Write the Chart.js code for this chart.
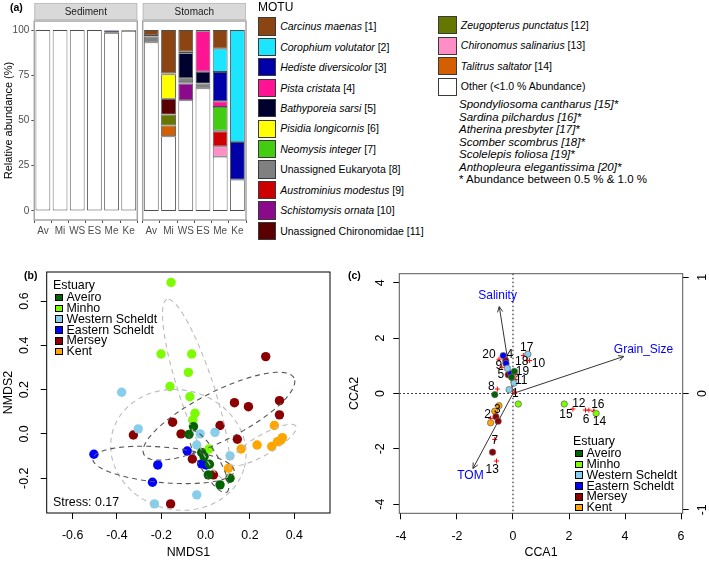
<!DOCTYPE html>
<html>
<head>
<meta charset="utf-8">
<script src="https://cdn.jsdelivr.net/npm/chart.js@4/dist/chart.umd.min.js"></script>
<style>
  body { margin: 0; width: 709px; height: 562px; position: relative; overflow: hidden; background: #fff;
         font-family: "Liberation Sans", Arial, sans-serif; }
  canvas { position: absolute; }
  .t { position: absolute; white-space: nowrap; color: #000; }
  .key { position: absolute; box-sizing: border-box; }
</style>
</head>
<body>
<canvas id="sediment" width="140" height="245" style="left:0;top:0"></canvas>
<canvas id="stomach" width="110" height="245" style="left:140px;top:0"></canvas>
<canvas id="nmds" width="345" height="300" style="left:0;top:262px"></canvas>
<canvas id="cca" width="364" height="300" style="left:345px;top:262px"></canvas>
<div id="labels"></div>
<script>
const FONT = '"Liberation Sans", Arial, sans-serif';
Chart.defaults.font.family = FONT;

// ---------- (a) relative abundance of MOTUs ----------
const sites = ['Av', 'Mi', 'WS', 'ES', 'Me', 'Ke'];
const motuNames = ['Carcinus maenas [1]', 'Corophium volutator [2]', 'Hediste diversicolor [3]',
  'Pista cristata [4]', 'Bathyporeia sarsi [5]', 'Pisidia longicornis [6]', 'Neomysis integer [7]',
  'Unassigned Eukaryota [8]', 'Austrominius modestus [9]', 'Schistomysis ornata [10]',
  'Unassigned Chironomidae [11]', 'Zeugopterus punctatus [12]', 'Chironomus salinarius [13]',
  'Talitrus saltator [14]', 'Other (<1.0 % Abundance)'];
const motuColors = ['#8B4513', '#1CE6FF', '#0000A8', '#FF1493', '#00002E', '#FFFF00', '#44CC11',
  '#808080', '#CC0000', '#8B0A8B', '#5A0000', '#667700', '#FF8DC6', '#D45F00', '#FFFFFF'];
// % abundance per site, in motuNames order
const sedimentAv = [0, 0, 0, 0, 0, 0, 0, 0, 0, 0, 0, 0, 0, 0, 100];
const sedimentMi = [0, 0, 0, 0, 0, 0, 0, 0, 0, 0, 0, 0, 0, 0, 100];
const sedimentWS = [0, 0, 0, 0, 0, 0, 0, 0, 0, 0, 0, 0, 0, 0, 100];
const sedimentES = [0, 0, 0, 0, 0, 0, 0, 0, 0, 0, 0, 0, 0, 0, 100];
const sedimentMe = [0.3, 0, 1.2, 0, 0, 0, 0, 0, 0, 0, 0, 0, 0, 0, 98.5];
const sedimentKe = [0, 0, 0, 0, 0.4, 0, 0, 0, 0, 0, 0, 0, 0, 0, 99.6];
const stomachAv = [2.8, 0, 0, 0, 0.7, 0, 0, 3.3, 0, 0, 0, 0, 0, 0, 93.2];
const stomachMi = [24.0, 0, 0, 0, 0.5, 13.5, 0, 0, 0, 0, 8.7, 6.1, 0, 5.9, 41.3];
const stomachWS = [12.0, 0.8, 0, 0, 13.8, 0, 0, 2.2, 0.8, 9.2, 0, 0, 0, 0, 61.2];
const stomachES = [0.6, 0, 0, 22.4, 6.6, 0, 0, 2.6, 0, 0, 0, 0, 0, 0, 67.8];
const stomachMe = [10.3, 12.9, 16.2, 3.1, 0, 0, 13.1, 0.4, 8.3, 0, 0, 0, 5.7, 0, 30.0];
const stomachKe = [0, 61.9, 20.8, 0, 0, 0, 0, 0, 0, 0, 0, 0, 0, 0, 17.3];
const abundanceTicks = [0, 25, 50, 75, 100];
const minorMotus = ['Spondyliosoma cantharus [15]*', 'Sardina pilchardus [16]*', 'Atherina presbyter [17]*',
  'Scomber scombrus [18]*', 'Scolelepis foliosa [19]*', 'Anthopleura elegantissima [20]*'];

// ---------- (b) NMDS ----------
const estuaries = ['Aveiro', 'Minho', 'Western Scheldt', 'Eastern Scheldt', 'Mersey', 'Kent'];
const estuaryColors = ['#006400', '#7CFC00', '#87CEEB', '#0000FF', '#8B0000', '#FFA500'];
const aveiroNmds1 = [-0.055, -0.075, -0.018, -0.007, 0.017, 0.012, 0.110, 0.065];
const aveiroNmds2 = [0.033, -0.002, -0.084, -0.102, -0.137, -0.185, -0.200, -0.230];
const minhoNmds1 = [-0.156, -0.201, -0.063, -0.078, -0.161, -0.071, -0.048, -0.058, 0.015];
const minhoNmds2 = [0.684, 0.361, 0.361, 0.278, 0.214, 0.168, 0.093, 0.063, -0.068];
const wScheldtNmds1 = [-0.379, -0.304, -0.025, 0.042, -0.040, 0.110, -0.040, -0.231];
const wScheldtNmds2 = [0.188, 0.023, 0.000, 0.007, -0.050, -0.099, -0.275, -0.316];
const eScheldtNmds1 = [-0.504, -0.216, -0.240, -0.083, -0.018, 0.002];
const eScheldtNmds2 = [-0.092, -0.140, -0.218, -0.077, -0.135, -0.140];
const merseyNmds1 = [0.271, 0.333, 0.333, 0.193, 0.130, -0.149, 0.065, -0.326, -0.111, 0.143, -0.060, 0.035, -0.158];
const merseyNmds2 = [0.349, 0.150, 0.086, 0.123, 0.141, 0.053, 0.038, -0.005, 0.000, -0.024, -0.113, -0.185, -0.316];
const kentNmds1 = [0.310, 0.346, 0.324, 0.340, 0.298, 0.232, 0.160, 0.103];
const kentNmds2 = [0.038, -0.017, -0.035, -0.027, -0.057, -0.050, -0.068, -0.155];
// dispersion ellipses, one per estuary (centre, semi-axes, angle in degrees)
const ellipseCx = [0.015, -0.043, -0.123, -0.19, 0.06, 0.26];
const ellipseCy = [-0.125, 0.203, -0.072, -0.14, 0.08, -0.05];
const ellipseA = [0.16, 0.425, 0.308, 0.32, 0.38, 0.17];
const ellipseB = [0.045, 0.08, 0.27, 0.08, 0.11, 0.045];
const ellipseDeg = [-60, 108, -15, -5, 27, 30];
const nmdsTicks1 = [-0.6, -0.4, -0.2, 0.0, 0.2, 0.4];
const nmdsTicks2 = [-0.2, 0.0, 0.2, 0.4, 0.6];

// ---------- (c) CCA ----------
const aveiroCca1 = [0.05, -0.05, -0.65];
const aveiroCca2 = [0.80, 0.59, -0.04];
const minhoCca1 = [0.19, 1.83, 2.97];
const minhoCca2 = [-0.38, -0.38, -0.72];
const wScheldtCca1 = [0.53, -0.20, 0.04, -0.14];
const wScheldtCca2 = [1.42, 0.91, 0.38, 0.14];
const eScheldtCca1 = [-0.35, -0.25, -0.08];
const eScheldtCca2 = [1.37, 1.09, 0.72];
const merseyCca1 = [-0.26, -0.17, -0.61, -0.53, -0.73];
const merseyCca2 = [1.19, 0.68, -0.84, -1.00, -2.12];
const kentCca1 = [-0.50, -0.65, -0.80];
const kentCca2 = [-0.44, -0.64, -1.06];
const speciesIds = ['1', '2', '3', '4', '5', '6', '7', '8', '9', '10', '11', '12', '13', '14', '15', '16', '17', '18', '19', '20'];
const speciesCca1 = [0.05, -0.8, -0.6, -0.3, -0.2, 2.71, -0.65, -0.56, -0.4, 0.59, 0.1, 2.59, -0.59, 2.89, 2.14, 2.89, 0.37, 0.5, 0.1, -0.5];
const speciesCca2 = [0.05, -0.9, -0.55, 1.3, 0.68, -0.6, -1.66, 0.16, 0.95, 1.19, 0.5, -0.6, -2.44, -0.64, -0.56, -0.64, 1.37, 1.2, 0.7, 1.24];
const speciesLabelCca1 = [0.08, -0.91, -0.56, -0.11, -0.43, 2.61, -0.65, -0.77, -0.51, 0.91, 0.29, 2.35, -0.74, 3.09, 1.89, 3.03, 0.49, 0.31, 0.34, -0.86];
const speciesLabelCca2 = [-0.02, -0.76, -0.6, 1.42, 0.68, -0.94, -1.7, 0.23, 1.0, 1.07, 0.47, -0.36, -2.74, -1.02, -0.76, -0.42, 1.67, 1.16, 0.8, 1.42];
const envNames = ['Salinity', 'Grain_Size', 'TOM'];
const envCca1 = [-0.49, 3.96, -1.43];
const envCca2 = [3.14, 1.34, -2.71];
const envLabelCca1 = [-0.55, 4.66, -1.52];
const envLabelCca2 = [3.52, 1.6, -2.98];
const ccaTicks1 = [-4, -2, 0, 2, 4, 6];
const ccaTicks2 = [-4, -2, 0, 2, 4];
const ccaTicksRight = [-1, 0, 1];

// ---------- helpers ----------
const setTicks = list => scale => { scale.ticks = list.map(v => ({ value: v })); };

function facetPlugin(text) {
  return {
    id: 'facet',
    afterDraw(chart) {
      const { ctx, chartArea: a } = chart;
      ctx.save();
      ctx.fillStyle = '#D9D9D9';
      ctx.fillRect(a.left, 3, a.right - a.left, 17);
      ctx.strokeStyle = '#BFBFBF';
      ctx.lineWidth = 1;
      ctx.strokeRect(a.left + 0.5, 3.5, a.right - a.left - 1, 16);
      ctx.fillStyle = '#1A1A1A';
      ctx.font = '10px ' + FONT;
      ctx.textAlign = 'center';
      ctx.textBaseline = 'middle';
      ctx.fillText(text, (a.left + a.right) / 2, 12);
      ctx.strokeStyle = '#A6A6A6';
      ctx.lineWidth = 1.5;
      ctx.strokeRect(a.left, a.top, a.right - a.left, a.bottom - a.top);
      ctx.restore();
    }
  };
}

function barChart(id, siteValues, facet, showY) {
  const datasets = [];
  for (let m = motuNames.length - 1; m >= 0; m--) {
    datasets.push({
      label: motuNames[m],
      data: siteValues.map(v => v[m] > 0 ? v[m] : null),
      backgroundColor: motuColors[m],
      borderColor: '#4D4D4D',
      borderWidth: 0.9,
      borderSkipped: false,
      barPercentage: 0.86,
      categoryPercentage: 1
    });
  }
  return new Chart(document.getElementById(id), {
    type: 'bar',
    data: { labels: sites, datasets },
    options: {
      responsive: false,
      animation: false,
      layout: { padding: { top: 21, left: showY ? 0 : 2.7, right: showY ? 2.7 : 4, bottom: 0 } },
      plugins: { legend: { display: false }, tooltip: { enabled: false } },
      scales: {
        x: {
          stacked: true,
          afterFit: s => { s.height = 25; },
          grid: { drawOnChartArea: false, drawTicks: true, tickLength: 3, color: '#4D4D4D' },
          border: { display: false },
          ticks: { color: '#4D4D4D', font: { size: 10 }, padding: 2, maxRotation: 0, autoSkip: false }
        },
        y: {
          display: showY,
          stacked: true,
          min: -5,
          max: 105,
          afterBuildTicks: setTicks(abundanceTicks),
          afterFit: s => { s.width = showY ? 34.3 : 0; },
          grid: { drawOnChartArea: false, drawTicks: true, tickLength: 3, color: '#4D4D4D' },
          border: { display: false },
          ticks: { color: '#4D4D4D', font: { size: 10 }, padding: 2 },
          title: { display: true, text: 'Relative abundance (%)', color: '#000', font: { size: 11 }, padding: { top: 2, bottom: 0 } }
        }
      }
    },
    plugins: [facetPlugin(facet)]
  });
}

barChart('sediment', [sedimentAv, sedimentMi, sedimentWS, sedimentES, sedimentMe, sedimentKe], 'Sediment', true);
barChart('stomach', [stomachAv, stomachMi, stomachWS, stomachES, stomachMe, stomachKe], 'Stomach', false);

// R style box, rotated y labels and axis titles
function rAxesPlugin(cfg) {
  return {
    id: 'rAxes',
    afterDraw(chart) {
      const { ctx, chartArea: a } = chart;
      ctx.save();
      ctx.strokeStyle = cfg.boxColor;
      ctx.lineWidth = 1;
      ctx.strokeRect(a.left, a.top, a.right - a.left, a.bottom - a.top);
      ctx.fillStyle = '#000';
      ctx.font = '12.4px ' + FONT;
      ctx.textAlign = 'center';
      ctx.textBaseline = 'middle';
      cfg.rotated.forEach(r => {
        const s = chart.scales[r.id];
        s.ticks.forEach(t => {
          ctx.save();
          ctx.translate(r.x, s.getPixelForValue(t.value));
          ctx.rotate(-Math.PI / 2);
          ctx.fillText(t.value.toFixed(r.dec), 0, 0);
          ctx.restore();
        });
      });
      ctx.fillText(cfg.xTitle, (a.left + a.right) / 2, cfg.xTitleY);
      ctx.save();
      ctx.translate(cfg.yTitleX, (a.top + a.bottom) / 2);
      ctx.rotate(-Math.PI / 2);
      ctx.fillText(cfg.yTitle, 0, 0);
      ctx.restore();
      ctx.restore();
    }
  };
}

function rScale(min, max, ticks, extra) {
  return Object.assign({
    type: 'linear',
    min, max,
    afterBuildTicks: setTicks(ticks),
    grid: { drawOnChartArea: false, drawTicks: true, tickLength: 6, color: '#000' },
    border: { display: false },
    ticks: { display: false }
  }, extra);
}

// ---------- (b) ----------
const nmds1 = [aveiroNmds1, minhoNmds1, wScheldtNmds1, eScheldtNmds1, merseyNmds1, kentNmds1];
const nmds2 = [aveiroNmds2, minhoNmds2, wScheldtNmds2, eScheldtNmds2, merseyNmds2, kentNmds2];
const ellipseColors = ['#555555', '#BBBBBB', '#BBBBBB', '#555555', '#555555', '#BBBBBB'];

const ellipsePlugin = {
  id: 'ellipses',
  afterDatasetsDraw(chart) {
    const { ctx, scales: { x, y } } = chart;
    ctx.save();
    ctx.lineWidth = 1.1;
    ctx.setLineDash([5, 4]);
    ellipseCx.forEach((cx, i) => {
      const th = ellipseDeg[i] * Math.PI / 180;
      ctx.strokeStyle = ellipseColors[i];
      ctx.beginPath();
      for (let k = 0; k <= 100; k++) {
        const t = k / 100 * 2 * Math.PI;
        const ex = cx + ellipseA[i] * Math.cos(th) * Math.cos(t) - ellipseB[i] * Math.sin(th) * Math.sin(t);
        const ey = ellipseCy[i] + ellipseA[i] * Math.sin(th) * Math.cos(t) + ellipseB[i] * Math.cos(th) * Math.sin(t);
        const px = x.getPixelForValue(ex), py = y.getPixelForValue(ey);
        if (k === 0) ctx.moveTo(px, py); else ctx.lineTo(px, py);
      }
      ctx.stroke();
    });
    ctx.restore();
  }
};

new Chart(document.getElementById('nmds'), {
  type: 'scatter',
  data: {
    datasets: estuaries.map((name, i) => ({
      label: name,
      data: nmds1[i].map((v, j) => ({ x: v, y: nmds2[i][j] })),
      backgroundColor: estuaryColors[i],
      borderWidth: 0,
      pointRadius: 4.7
    }))
  },
  options: {
    responsive: false,
    animation: false,
    layout: { padding: { top: 10, right: 15, left: 0, bottom: 0 } },
    plugins: { legend: { display: false }, tooltip: { enabled: false } },
    scales: {
      x: rScale(-0.717, 0.561, nmdsTicks1, {
        afterFit: s => { s.height = 49; },
        ticks: { display: true, color: '#000', font: { size: 12.4 }, padding: 9, maxRotation: 0, autoSkip: false,
                 callback: v => Number(v).toFixed(1) }
      }),
      y: rScale(-0.357, 0.731, nmdsTicks2, { afterFit: s => { s.width = 46.7; } })
    }
  },
  plugins: [ellipsePlugin, rAxesPlugin({
    boxColor: '#000', rotated: [{ id: 'y', x: 25, dec: 1 }],
    xTitle: 'NMDS1', xTitleY: 291, yTitle: 'NMDS2', yTitleX: 8.5
  })]
});

// ---------- (c) ----------
const cca1 = [aveiroCca1, minhoCca1, wScheldtCca1, eScheldtCca1, merseyCca1, kentCca1];
const cca2 = [aveiroCca2, minhoCca2, wScheldtCca2, eScheldtCca2, merseyCca2, kentCca2];

const biplotPlugin = {
  id: 'biplot',
  beforeDatasetsDraw(chart) {
    const { ctx, chartArea: a, scales: { x, y } } = chart;
    ctx.save();
    ctx.strokeStyle = '#000';
    ctx.lineWidth = 1;
    ctx.setLineDash([1.5, 2.5]);
    const x0 = x.getPixelForValue(0), y0 = y.getPixelForValue(0);
    ctx.beginPath();
    ctx.moveTo(x0, a.top); ctx.lineTo(x0, a.bottom);
    ctx.moveTo(a.left, y0); ctx.lineTo(a.right, y0);
    ctx.stroke();
    ctx.setLineDash([]);
    ctx.strokeStyle = '#333';
    envNames.forEach((n, i) => {
      const px = x.getPixelForValue(envCca1[i]), py = y.getPixelForValue(envCca2[i]);
      const ang = Math.atan2(py - y0, px - x0);
      ctx.beginPath();
      ctx.moveTo(x0, y0); ctx.lineTo(px, py);
      ctx.moveTo(px - 6 * Math.cos(ang - 0.45), py - 6 * Math.sin(ang - 0.45));
      ctx.lineTo(px, py);
      ctx.lineTo(px - 6 * Math.cos(ang + 0.45), py - 6 * Math.sin(ang + 0.45));
      ctx.stroke();
    });
    ctx.restore();
  },
  afterDatasetsDraw(chart) {
    const { ctx, scales: { x, y } } = chart;
    ctx.save();
    ctx.font = '12px ' + FONT;
    ctx.textAlign = 'center';
    ctx.textBaseline = 'middle';
    ctx.fillStyle = '#0000FF';
    envNames.forEach((n, i) => ctx.fillText(n, x.getPixelForValue(envLabelCca1[i]), y.getPixelForValue(envLabelCca2[i])));
    ctx.fillStyle = '#000';
    speciesIds.forEach((n, i) => ctx.fillText(n, x.getPixelForValue(speciesLabelCca1[i]), y.getPixelForValue(speciesLabelCca2[i])));
    ctx.restore();
  }
};

const ccaDatasets = estuaries.map((name, i) => ({
  label: name,
  data: cca1[i].map((v, j) => ({ x: v, y: cca2[i][j] })),
  backgroundColor: estuaryColors[i],
  borderColor: '#666',
  borderWidth: 0.7,
  pointRadius: 3.2
}));
ccaDatasets.push({
  label: 'MOTU',
  data: speciesCca1.map((v, j) => ({ x: v, y: speciesCca2[j] })),
  pointStyle: 'cross',
  pointRadius: 2.5,
  borderColor: '#FF0000',
  borderWidth: 1
});

new Chart(document.getElementById('cca'), {
  type: 'scatter',
  data: { datasets: ccaDatasets },
  options: {
    responsive: false,
    animation: false,
    layout: { padding: { top: 11.7, right: 0, left: 0, bottom: 0 } },
    plugins: { legend: { display: false }, tooltip: { enabled: false } },
    scales: {
      x: rScale(-4.06, 6.06, ccaTicks1, {
        afterFit: s => { s.height = 48.7; },
        ticks: { display: true, color: '#000', font: { size: 12.4 }, padding: 9.5, maxRotation: 0, autoSkip: false }
      }),
      y: rScale(-4.33, 4.33, ccaTicks2, { afterFit: s => { s.width = 54.3; } }),
      y2: rScale(-1.03, 1.03, ccaTicksRight, { position: 'right', afterFit: s => { s.width = 26.3; } })
    }
  },
  plugins: [biplotPlugin, rAxesPlugin({
    boxColor: '#555', rotated: [{ id: 'y', x: 35.7, dec: 0 }, { id: 'y2', x: 358, dec: 0 }],
    xTitle: 'CCA1', xTitleY: 291, yTitle: 'CCA2', yTitleX: 10
  })]
});

// ---------- text, legends ----------
const layer = document.getElementById('labels');
function text(str, left, cy, size, extra) {
  const d = document.createElement('div');
  d.className = 't';
  d.textContent = str;
  d.style.left = left + 'px';
  d.style.top = (cy - size * 0.6) + 'px';
  d.style.fontSize = size + 'px';
  d.style.lineHeight = (size * 1.2) + 'px';
  if (extra) Object.assign(d.style, extra);
  layer.appendChild(d);
  return d;
}
function key(left, top, w, color, border) {
  const d = document.createElement('div');
  d.className = 'key';
  Object.assign(d.style, { left: left + 'px', top: top + 'px', width: w + 'px', height: w + 'px',
    background: color, border: border });
  layer.appendChild(d);
}

text('(a)', 10, 7, 10.5, { fontWeight: 'bold' });
text('(b)', 24, 275, 10.5, { fontWeight: 'bold' });
text('(c)', 348, 275, 10.5, { fontWeight: 'bold' });

// MOTU legend
text('MOTU', 258, 7, 12);
motuNames.forEach((n, i) => {
  const col2 = i >= 11;
  const left = col2 ? 438.3 : 257.7;
  const top = col2 ? 16 + (i - 11) * 20.5 : 17.3 + i * 20.44;
  key(left, top, 18.3, motuColors[i], '1.3px solid #3A3A3A');
  const m = n.match(/^(.*?)( \[\d+\])$/);
  const d = text('', left + 22.5, top + 9.2, 10.5);
  if (m && !n.startsWith('Unassigned')) {
    const it = document.createElement('i');
    it.textContent = m[1];
    d.appendChild(it);
    d.appendChild(document.createTextNode(m[2]));
  } else {
    d.textContent = n;
  }
});
minorMotus.forEach((n, i) => text(n, 459, 105 + i * 12.5, 11.5, { fontStyle: 'italic' }));
text('* Abundance between 0.5 % & 1.0 %', 459, 180, 11.5);

// estuary legends
function estuaryLegend(left, titleY) {
  text('Estuary', left - 2, titleY, 12.4);
  estuaries.forEach((n, i) => {
    const cy = titleY + 12.6 + i * 10.8;
    key(left, cy - 3.8, 7.6, estuaryColors[i], '1px solid #000');
    text(n, left + 11.5, cy, 12.4);
  });
}
estuaryLegend(55, 285);
estuaryLegend(575, 441);
text('Stress: 0.17', 53, 502.7, 12.4);
</script>
</body>
</html>
